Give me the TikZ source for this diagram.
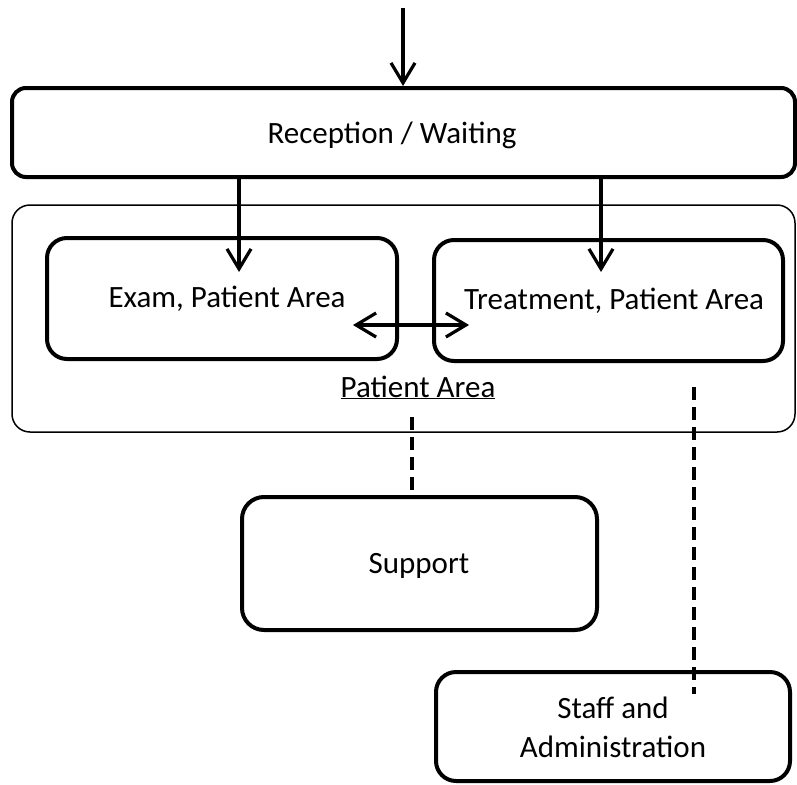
\documentclass[tikz,border=0pt]{standalone}
\usepackage{fontspec}
\setmainfont{Carlito}
\usetikzlibrary{arrows.meta}
\begin{document}
\begin{tikzpicture}[x=1pt,y=-1pt,
  txt/.style={font=\fontsize{31}{39}\selectfont, inner sep=0pt},
  box/.style={draw, line width=4pt, rounded corners=18pt, inner sep=0pt,
    font=\fontsize{31}{39}\selectfont, align=center, text height=21pt, text depth=7pt},
  areabox/.style={draw, line width=1.5pt, rounded corners=18pt, inner sep=0pt},
  arr/.style={line width=3.2pt, -{Straight Barb[length=20pt,width=24pt]}},
  darr/.style={line width=3.2pt, {Straight Barb[length=20pt,width=24pt]}-{Straight Barb[length=20pt,width=24pt]}},
  dsh/.style={line width=4pt, dash pattern=on 13pt off 7pt}
]
\useasboundingbox (0,0) rectangle (797,784);
% boxes
\node[box, rounded corners=14pt, minimum width=783pt, minimum height=89pt] (rec) at (403.5,132.5) {};
\node[txt, anchor=base] (rectxt) at (392,143) {Reception / Waiting};
\node[areabox, minimum width=783pt, minimum height=227pt] (pa) at (403.5,318.5) {};
\node[box, rounded corners=20pt, minimum width=350pt, minimum height=121pt] (exam) at (222,298.5) {};
\node[txt, anchor=base] (examtxt) at (227,307) {Exam, Patient Area};
\node[box, rounded corners=20pt, minimum width=349pt, minimum height=121pt] (treat) at (608.5,300.5) {};
\node[txt, anchor=base] (treattxt) at (614,309) {Treatment, Patient Area};
\node[txt, anchor=base] (patxt) at (418,397) {\underline{Patient Area}};
\node[box, rounded corners=22pt, minimum width=355pt, minimum height=133pt] (sup) at (419.5,563.5) {};
\node[txt, anchor=base] (suptxt) at (419,573) {Support};
\node[box, rounded corners=20pt, minimum width=354pt, minimum height=109pt] (staff) at (613,726.5) {};
\node[txt, align=center, anchor=base] (stafftxt) at (613,757) {Staff and\\Administration};
% connectors
\coordinate (in) at (403,8);
\draw[arr] (in) -- (in |- rec.north);
\coordinate (a1) at (239,272);
\coordinate (a2) at (601,272);
\draw[arr] (a1 |- rec.south) -- (a1);
\draw[arr] (a2 |- rec.south) -- (a2);
\coordinate (d1) at (353,325);
\coordinate (d2) at (469,325);
\draw[darr] (d1) -- (d2);
\coordinate (s1) at (412,417);
\draw[dsh] (s1) -- (s1 |- sup.north);
\coordinate (t1) at (694,387);
\coordinate (t2) at (694,694);
\draw[dsh] (t1) -- (t2);
\end{tikzpicture}
\end{document}
